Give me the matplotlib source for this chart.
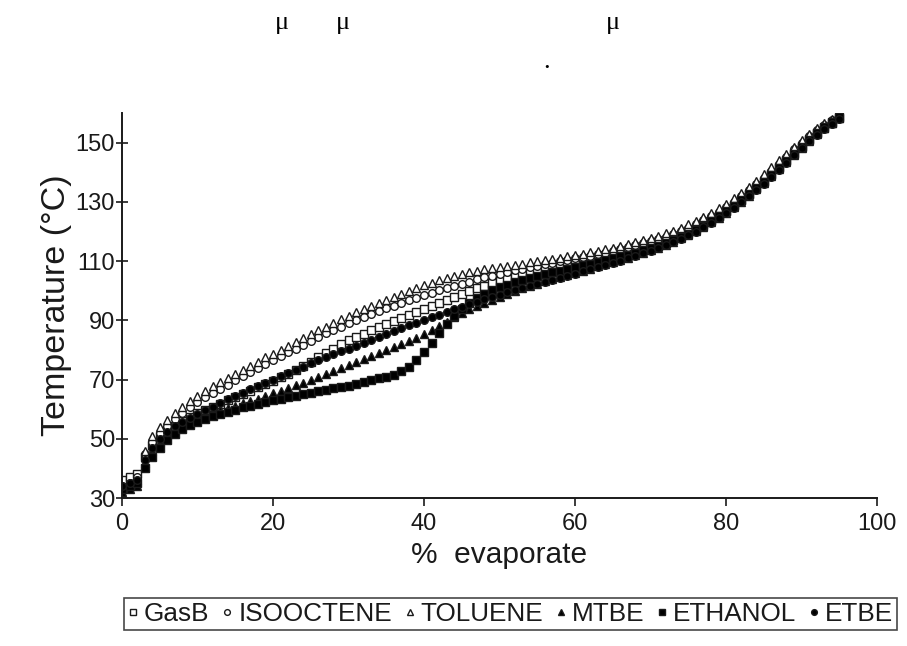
import matplotlib
matplotlib.use('Agg')
import matplotlib.pyplot as plt

# % evaporated, 1 % steps
evaporated = list(range(96))

gasb = [36, 37, 38, 44, 48, 51, 52.8, 54.4, 55.9, 57.3, 58.6, 59.7, 60.8, 61.9, 63, 64.1,
        65.2, 66.3, 67.4, 68.5, 69.6, 70.8, 72, 73.3, 74.6, 76, 77.5, 79, 80.5, 82,
        83.3, 84.4, 85.5, 86.6, 87.7, 88.8, 89.8, 90.8, 91.8, 92.8, 93.8, 94.8, 95.8, 96.8,
        97.8, 98.8, 99.8, 100.8, 101.7, 102.6, 103.4, 104.1, 104.8, 105.5, 106.1, 106.7,
        107.3, 107.9, 108.5, 109, 109.5, 110, 110.5, 111, 111.5, 112.1, 112.7, 113.3, 114,
        114.7, 115.4, 116.2, 117, 117.9, 118.9, 120, 121.2, 122.5, 123.9, 125.4, 127, 128.8,
        130.7, 132.7, 134.8, 137, 139.3, 141.7, 144.1, 146.5, 148.9, 151.1, 153.2, 155.1,
        156.8, 158.3]

isooctene = [34, 35, 37, 45, 49, 52, 54.5, 56.7, 58.7, 60.6, 62.4, 64, 65.5, 66.9, 68.3,
             69.7, 71.1, 72.5, 73.9, 75.3, 76.6, 77.9, 79.2, 80.5, 81.8, 83.1, 84.4, 85.6,
             86.8, 87.9, 89, 90.1, 91.1, 92.1, 93.1, 94.1, 95, 95.9, 96.8, 97.7, 98.6, 99.4,
             100.2, 101, 101.7, 102.4, 103.1, 103.8, 104.5, 105.1, 105.7, 106.3, 106.9, 107.4,
             107.9, 108.4, 108.9, 109.4, 109.9, 110.4, 110.9, 111.4, 111.9, 112.4, 112.9,
             113.5, 114.1, 114.7, 115.3, 116, 116.7, 117.5, 118.3, 119.2, 120.2, 121.3, 122.5,
             123.8, 125.2, 126.7, 128.3, 130, 131.9, 133.9, 136, 138.2, 140.5, 142.9, 145.3,
             147.7, 150, 152.2, 154.2, 156, 157.6, 159]

toluene = [33, 34, 36, 46, 51, 54, 56.5, 58.7, 60.8, 62.8, 64.6, 66.2, 67.7, 69.1, 70.5,
           71.9, 73.3, 74.7, 76.1, 77.5, 78.8, 80.1, 81.4, 82.7, 84, 85.3, 86.6, 87.9, 89.1,
           90.3, 91.5, 92.7, 93.8, 94.9, 95.9, 96.9, 97.9, 98.9, 99.9, 100.9, 101.8, 102.7,
           103.5, 104.3, 105, 105.6, 106.2, 106.7, 107.2, 107.6, 108, 108.4, 108.8, 109.2,
           109.6, 110, 110.4, 110.8, 111.2, 111.6, 112, 112.5, 113, 113.5, 114, 114.6, 115.2,
           115.8, 116.4, 117.1, 117.8, 118.6, 119.4, 120.3, 121.3, 122.4, 123.6, 124.9, 126.3,
           127.8, 129.4, 131.2, 133.1, 135.1, 137.2, 139.4, 141.7, 144, 146.3, 148.6, 150.8,
           152.9, 154.8, 156.5, 158, 159.3]

mtbe = [32, 33, 34, 42, 46, 49, 51.2, 53, 54.5, 55.7, 56.8, 57.8, 58.7, 59.6, 60.4, 61.2,
        62, 62.8, 63.6, 64.5, 65.4, 66.3, 67.2, 68.1, 69, 70, 71, 72, 73, 74, 75, 76, 77, 78,
        79, 80, 81, 82, 83, 84.2, 85.4, 86.6, 88, 89.5, 91, 92.5, 93.8, 95, 96, 97, 98, 99,
        99.9, 100.8, 101.6, 102.4, 103.2, 104, 104.7, 105.4, 106.1, 106.8, 107.5, 108.2,
        108.9, 109.6, 110.4, 111.2, 112, 112.8, 113.7, 114.6, 115.6, 116.6, 117.7, 118.9,
        120.2, 121.6, 123.1, 124.7, 126.4, 128.2, 130.1, 132.1, 134.2, 136.4, 138.7, 141.1,
        143.5, 145.9, 148.3, 150.6, 152.8, 154.8, 156.6, 158.2]

ethanol = [33, 34, 35, 40, 44, 47, 49.5, 51.5, 53.2, 54.6, 55.8, 56.8, 57.7, 58.5, 59.2,
           59.9, 60.6, 61.2, 61.8, 62.4, 63, 63.5, 64, 64.5, 65, 65.5, 66, 66.5, 67, 67.5,
           68, 68.6, 69.2, 69.8, 70.4, 71, 71.7, 72.8, 74.4, 76.6, 79.2, 82.3, 85.6, 88.8,
           91.6, 94, 96, 97.6, 99, 100.2, 101.2, 102.1, 102.9, 103.6, 104.3, 105, 105.6,
           106.2, 106.8, 107.4, 108, 108.6, 109.2, 109.8, 110.4, 111, 111.6, 112.2, 112.9,
           113.6, 114.3, 115.1, 116, 117, 118.1, 119.3, 120.6, 122, 123.5, 125.1, 126.8,
           128.6, 130.5, 132.5, 134.6, 136.8, 139.1, 141.5, 143.9, 146.3, 148.7, 151, 153.2,
           155.2, 157, 158.6]

etbe = [34, 35, 36, 43, 47, 50, 52.3, 54.2, 55.8, 57.2, 58.5, 59.7, 60.9, 62.1, 63.3, 64.5,
        65.6, 66.7, 67.8, 68.9, 70, 71.1, 72.2, 73.3, 74.4, 75.5, 76.5, 77.5, 78.5, 79.5,
        80.5, 81.5, 82.5, 83.5, 84.5, 85.5, 86.5, 87.4, 88.3, 89.2, 90.1, 91, 91.9, 92.8,
        93.7, 94.6, 95.5, 96.3, 97.1, 97.9, 98.7, 99.5, 100.2, 100.9, 101.6, 102.3, 103,
        103.7, 104.4, 105.1, 105.8, 106.5, 107.2, 107.9, 108.6, 109.3, 110.1, 110.9, 111.7,
        112.6, 113.5, 114.4, 115.4, 116.4, 117.5, 118.7, 120, 121.4, 122.9, 124.5, 126.2,
        128, 129.9, 131.9, 134, 136.2, 138.5, 140.9, 143.3, 145.7, 148.1, 150.4, 152.6,
        154.6, 156.4, 158]

series = [('GasB', gasb, 's', 'white'),
          ('ISOOCTENE', isooctene, 'o', 'white'),
          ('TOLUENE', toluene, '^', 'white'),
          ('MTBE', mtbe, '^', 'black'),
          ('ETHANOL', ethanol, 's', 'black'),
          ('ETBE', etbe, 'o', 'black')]

plt.rcParams['font.family'] = ['Liberation Sans', 'DejaVu Sans']
ink = '#1a1a1a'

fig = plt.figure(figsize=(9.07, 6.46), dpi=100)
ax = fig.add_axes([0.1345, 0.229, 0.8325, 0.596])

for name, temps, mk, face in series:
    ax.plot(evaporated, temps, linestyle='none', marker=mk, ms=5.5, mfc=face,
            mec=ink, mew=1.0, label=name)

ax.set_xlim(0, 100)
ax.set_ylim(30, 160)
ax.set_xticks(range(0, 101, 20))
ax.set_yticks(range(30, 151, 20))
ax.spines['top'].set_visible(False)
ax.spines['right'].set_visible(False)
for s in ('left', 'bottom'):
    ax.spines[s].set_linewidth(1.4)
    ax.spines[s].set_color(ink)
ax.tick_params(axis='y', direction='inout', length=8, width=1.2, labelsize=17, pad=1,
               colors=ink)
ax.tick_params(axis='x', direction='out', length=6, width=1.2, labelsize=17, pad=5,
               colors=ink)
ax.set_xlabel('%  evaporate', fontsize=21.5, labelpad=4, color=ink)
ax.set_ylabel('Temperature (°C)', fontsize=24.5, labelpad=3, color=ink)

leg = fig.legend(loc='center', bbox_to_anchor=(0.563, 0.049), ncol=6, fontsize=18.8,
                 handlelength=0.4, handletextpad=0.22, columnspacing=0.48,
                 borderpad=0.15, markerscale=0.75, fancybox=False, frameon=True)
leg.get_frame().set_edgecolor(ink)
leg.get_frame().set_linewidth(1.2)
for t in leg.get_texts():
    t.set_color(ink)

# stray glyphs from the page above the figure
for gx, gy, g in [(282, 23, 'μ'), (343, 23, 'μ'), (613, 23, 'μ'), (547, 62, '.')]:
    fig.text(gx / 907, 1 - gy / 646, g, ha='center', va='center', fontsize=19,
             family='Liberation Serif')

fig.savefig('out.png', dpi=100)
